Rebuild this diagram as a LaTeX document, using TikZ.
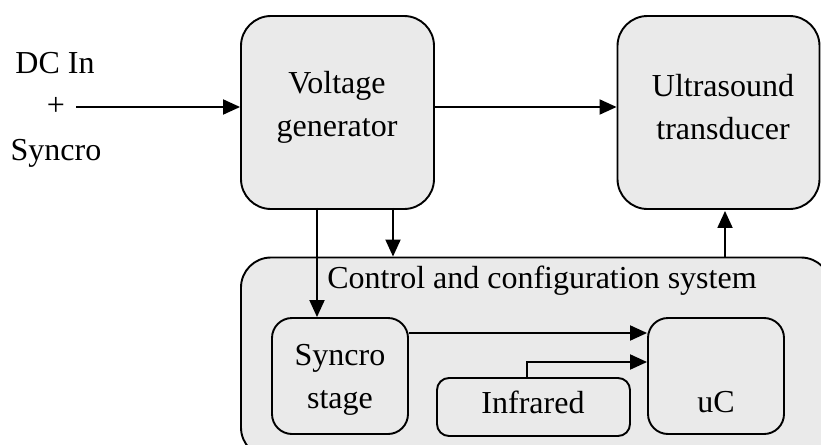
\documentclass[tikz,border=0pt]{standalone}
\usepackage{fontspec}
\setmainfont{Liberation Serif}
\usetikzlibrary{arrows.meta}
\definecolor{boxfill}{HTML}{EAEAEA}
\begin{document}
\begin{tikzpicture}[x=1pt,y=-1pt,
  box/.style={draw=black,fill=boxfill,line width=1.9pt,inner sep=0pt},
  lbl/.style={inner sep=0pt,font=\fontsize{32}{43}\selectfont,align=center},
  arr/.style={line width=1.9pt,-{Triangle[length=17pt,width=15pt]}},
  ln/.style={line width=1.9pt}]
\useasboundingbox (0,0) rectangle (821,444);
\fill[white] (0,0) rectangle (821,444);
\begin{scope}
\clip (0,0) rectangle (821,444);
% control box
\node[box,rounded corners=30pt,minimum width=590pt,minimum height=200pt] (cc) at (536,357.5) {};
\end{scope}
% top boxes
\node[box,rounded corners=30pt,minimum width=193pt,minimum height=193pt] (vg) at (337.5,112.5) {};
\node[box,rounded corners=30pt,minimum width=202pt,minimum height=193pt] (us) at (718.5,112.5) {};
% inner boxes
\node[box,rounded corners=20pt,minimum width=136pt,minimum height=116pt] (ss) at (340,376) {};
\node[box,rounded corners=12pt,minimum width=193pt,minimum height=58pt] (ir) at (533.5,407) {};
\node[box,rounded corners=20pt,minimum width=136pt,minimum height=116pt] (uc) at (716,376) {};
% labels
\node[lbl] (tdc) at (55,63) {DC In};
\node[lbl] (tplus) at (56,106) {+};
\node[lbl] (tsy) at (56,153) {Syncro};
\node[lbl] (tvg) at (337,107) {Voltage\\generator};
\node[lbl] (tus) at (723,107) {Ultrasound\\transducer};
\node[lbl] (tcc) at (542,281) {Control and configuration system};
\node[lbl] (tss) at (340,380) {Syncro\\stage};
\node[lbl] (tir) at (533,402) {Infrared};
\node[lbl] (tuc) at (716,402) {uC};
% coordinates
\coordinate (in) at (76,107);
\coordinate (a1) at (317,0);
\coordinate (a2) at (393,0);
\coordinate (a3) at (725,0);
\coordinate (a4) at (0,333);
\coordinate (a5) at (527,362);
% connectors
\draw[arr] (in) -- (in -| vg.west);
\draw[arr] (vg.east |- in) -- (us.west |- in);
\draw[arr] ([yshift=2pt]a1 |- vg.south) -- (a1 |- ss.north);
\draw[arr] ([yshift=2pt]a2 |- vg.south) -- (a2 |- cc.north);
\draw[arr] (a3 |- cc.north) -- ([yshift=-1pt]a3 |- us.south);
\draw[arr] (ss.east |- a4) -- (uc.west |- a4);
\draw[arr] (a5 |- ir.north) -- (a5) -- (uc.west |- a5);
\end{tikzpicture}
\end{document}
